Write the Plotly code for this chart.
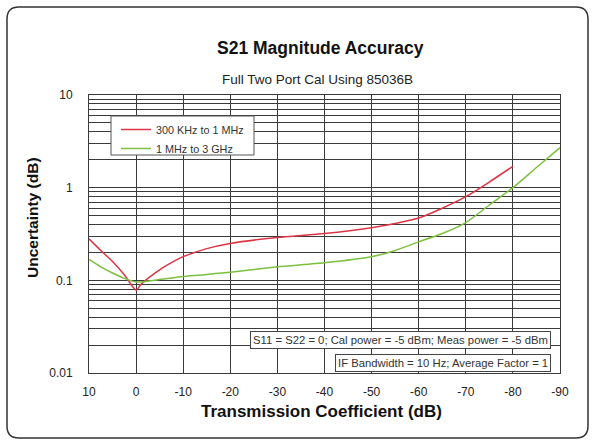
import plotly.graph_objects as go

# ---- data ----
red_x = [10, 7.5, 5, 2.5, 0, -1, -2.5, -5, -7.5, -10, -15, -20, -30, -40, -50, -55, -60, -65, -70, -75, -80]
red_y = [0.28, 0.21, 0.16, 0.115, 0.078, 0.09, 0.105, 0.13, 0.155, 0.18, 0.22, 0.25, 0.29, 0.32, 0.37, 0.41, 0.47, 0.6, 0.8, 1.15, 1.7]
green_x = [10, 7.5, 5, 2.5, 0, -5, -10, -20, -30, -40, -50, -55, -60, -65, -70, -75, -80, -85, -90]
green_y = [0.168, 0.14, 0.12, 0.105, 0.096, 0.102, 0.11, 0.122, 0.14, 0.155, 0.18, 0.21, 0.26, 0.32, 0.42, 0.65, 1.0, 1.65, 2.7]
red_name = "300 KHz to 1 MHz"
green_name = "1 MHz to 3 GHz"
x_ticks = [10, 0, -10, -20, -30, -40, -50, -60, -70, -80, -90]
x_tick_labels = ["10", "0", "-10", "-20", "-30", "-40", "-50", "-60", "-70", "-80", "-90"]
y_decades = [0.01, 0.1, 1, 10]
y_decade_labels = ["0.01", "0.1", "1", "10"]

# full log grid tick values
y_tickvals, y_ticktext = [], []
for d, lab in zip(y_decades, y_decade_labels):
    y_tickvals.append(d)
    y_ticktext.append(lab)
    if d < 10:
        for m in range(2, 10):
            y_tickvals.append(round(d * m, 6))
            y_ticktext.append("")

FONT = "Arial, Liberation Sans, sans-serif"
W, H = 593, 445
L, R, T, B = 89, 33, 95, 72
PW, PH = W - L - R, H - T - B

def px(x):
    return (x - L) / PW

def py(y):
    return (H - B - y) / PH

fig = go.Figure()
fig.add_trace(go.Scatter(x=red_x, y=red_y, mode="lines", name=red_name,
                         line=dict(color="#dc3545", width=1.5, shape="spline", smoothing=0.6)))
fig.add_trace(go.Scatter(x=green_x, y=green_y, mode="lines", name=green_name,
                         line=dict(color="#7dbf3f", width=1.5, shape="spline", smoothing=0.6)))

grid = "#3a3a3a"
fig.update_xaxes(range=[10, -90], tickvals=x_ticks, ticktext=x_tick_labels,
                 showgrid=True, gridcolor=grid, gridwidth=1,
                 showline=True, linecolor=grid, linewidth=1, mirror=True, zeroline=False,
                 ticks="", ticklabelstandoff=8, tickfont=dict(family=FONT, size=12, color="#222"))
fig.update_yaxes(type="log", range=[-2, 1], tickvals=y_tickvals, ticktext=y_ticktext,
                 showgrid=True, gridcolor=grid, gridwidth=1,
                 showline=True, linecolor=grid, linewidth=1, mirror=True, zeroline=False,
                 ticks="", ticklabelstandoff=13, tickfont=dict(family=FONT, size=12, color="#222"))

# legend box (drawn as shape) and transparent legend on top
fig.add_shape(type="rect", xref="paper", yref="paper",
              x0=px(111), x1=px(254), y0=py(155), y1=py(116),
              fillcolor="white", line=dict(color="#555", width=1), layer="above")
fig.update_layout(
    showlegend=True,
    legend=dict(x=px(116), y=py(115), xanchor="left", yanchor="top",
                bgcolor="rgba(0,0,0,0)", borderwidth=0,
                font=dict(family=FONT, size=10.8, color="#333"),
                itemwidth=30, tracegroupgap=2, traceorder="normal"),
)

# rounded frame
x0, x1, y0, y1, r = 7, 588, 7, 438, 12
def P(x, y):
    return f"{px(x):.5f},{py(y):.5f}"
path = (f"M {P(x0 + r, y0)} L {P(x1 - r, y0)} Q {P(x1, y0)} {P(x1, y0 + r)} "
        f"L {P(x1, y1 - r)} Q {P(x1, y1)} {P(x1 - r, y1)} "
        f"L {P(x0 + r, y1)} Q {P(x0, y1)} {P(x0, y1 - r)} "
        f"L {P(x0, y0 + r)} Q {P(x0, y0)} {P(x0 + r, y0)} Z")
fig.add_shape(type="path", xref="paper", yref="paper", path=path,
              line=dict(color="#333", width=1.5), layer="below")

ann = [
    dict(text="<b>S21 Magnitude Accuracy</b>", x=px(320), y=py(48), font=dict(size=17.5, color="#111")),
    dict(text="Full Two Port Cal Using 85036B", x=px(317), y=py(80), font=dict(size=13.5, color="#222")),
    dict(text="<b>Transmission Coefficient (dB)</b>", x=px(321), y=py(411), font=dict(size=17, color="#111")),
    dict(text="<b>Uncertainty (dB)</b>", x=px(32), y=py(218), textangle=-90, font=dict(size=15.5, color="#111")),
]
for a in ann:
    fig.add_annotation(xref="paper", yref="paper", showarrow=False, xanchor="center", yanchor="middle",
                       text=a["text"], x=a["x"], y=a["y"], textangle=a.get("textangle", 0),
                       font=dict(family=FONT, **a["font"]))

box_notes = [
    ("S11 = S22 = 0; Cal power = -5 dBm; Meas power = -5 dBm", 340),
    ("IF Bandwidth = 10 Hz; Average Factor = 1", 363),
]
for txt, yc in box_notes:
    fig.add_annotation(xref="paper", yref="paper", showarrow=False, xanchor="right", yanchor="middle",
                       x=px(551), y=py(yc), text=txt, bgcolor="white", bordercolor="#444",
                       borderwidth=1, borderpad=2, font=dict(family=FONT, size=11.3, color="#333"))

fig.update_layout(width=W, height=H, margin=dict(l=L, r=R, t=T, b=B),
                  paper_bgcolor="white", plot_bgcolor="white")
fig.write_html("out.html", config={"displayModeBar": False},
               post_script="document.body.style.margin='0';")
